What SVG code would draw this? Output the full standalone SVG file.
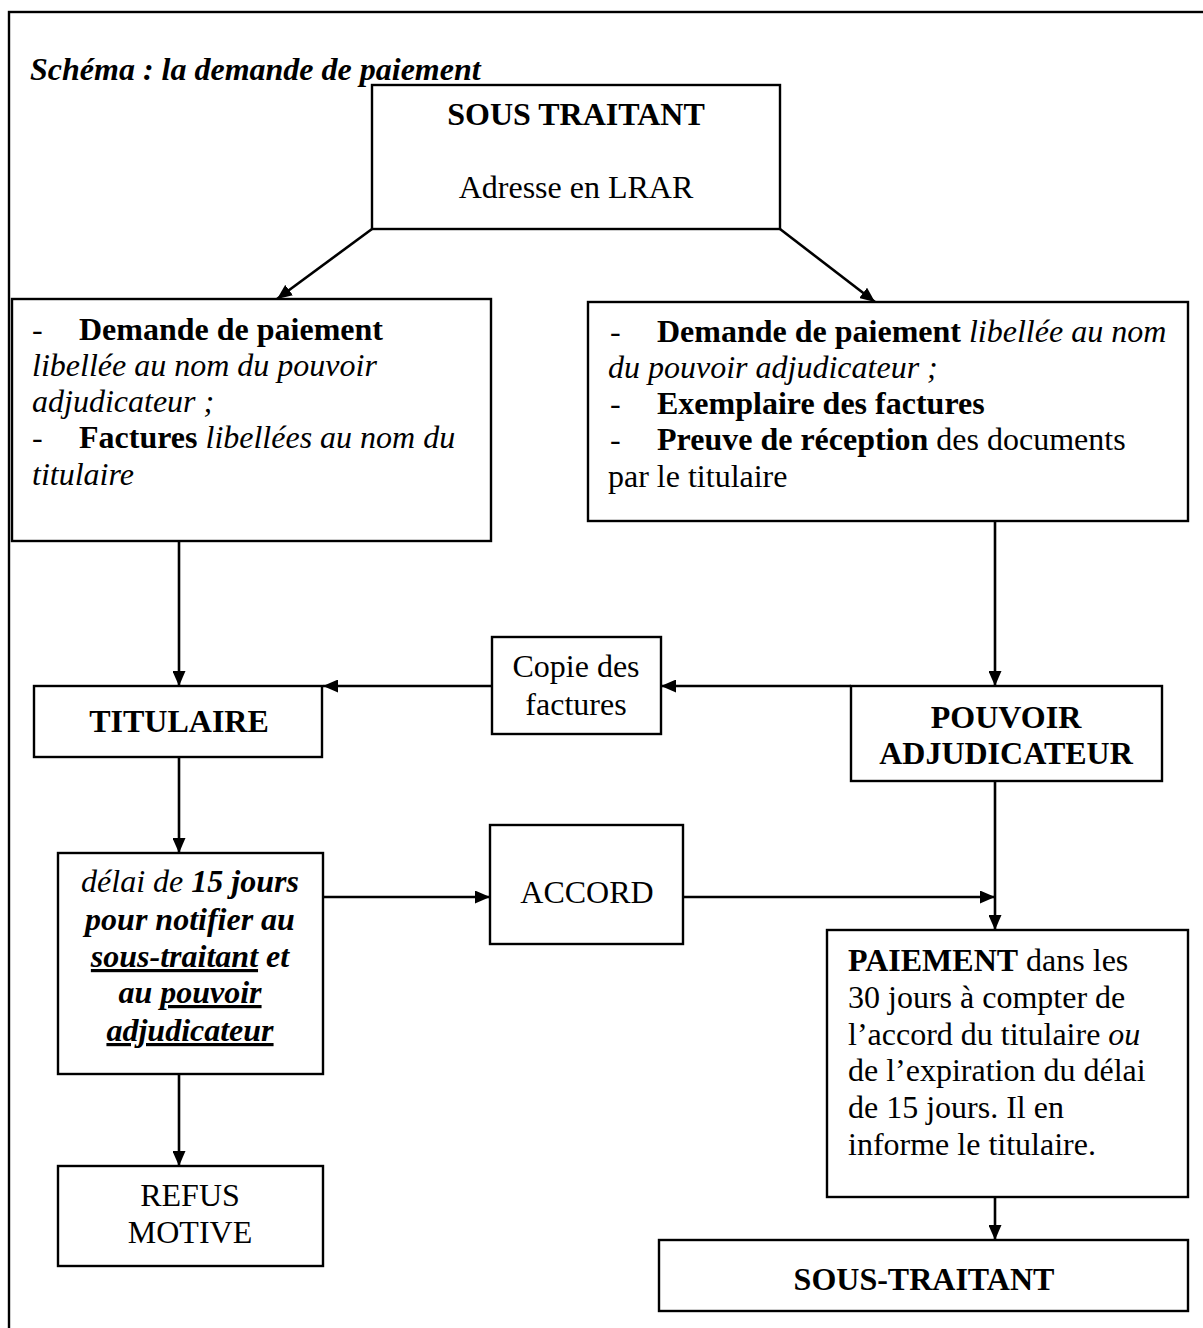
<svg xmlns="http://www.w3.org/2000/svg" width="1203" height="1328" viewBox="0 0 1203 1328">
<style>
text{font-family:"Liberation Serif","Times New Roman",serif;font-size:32px;fill:#000}
.b{font-weight:bold}
.i{font-style:italic}
.u{text-decoration:underline}
.m{text-anchor:middle}
.box{fill:#fff;stroke:#000;stroke-width:2.4}
.ln{fill:none;stroke:#000;stroke-width:2.6}
</style>
<defs>
<marker id="ah" viewBox="0 0 15 13" refX="15" refY="6.5" markerWidth="15" markerHeight="13" markerUnits="userSpaceOnUse" orient="auto">
<path d="M0,0 L15,6.5 L0,13 Z" fill="#000"/>
</marker>
</defs>
<rect x="9" y="12" width="1220" height="1340" fill="none" stroke="#000" stroke-width="2.4"/>
<text x="30" y="80" class="b i">Schéma : la demande de paiement</text>

<g id="connectors">
<line class="ln" x1="372" y1="229" x2="277" y2="299" marker-end="url(#ah)"/>
<line class="ln" x1="780" y1="229" x2="875" y2="302" marker-end="url(#ah)"/>
<line class="ln" x1="179" y1="541" x2="179" y2="686" marker-end="url(#ah)"/>
<line class="ln" x1="995" y1="521" x2="995" y2="686" marker-end="url(#ah)"/>
<line class="ln" x1="851" y1="686" x2="661" y2="686" marker-end="url(#ah)"/>
<line class="ln" x1="492" y1="686" x2="323" y2="686" marker-end="url(#ah)"/>
<line class="ln" x1="179" y1="757" x2="179" y2="853" marker-end="url(#ah)"/>
<line class="ln" x1="323" y1="897" x2="490" y2="897" marker-end="url(#ah)"/>
<line class="ln" x1="683" y1="897" x2="995" y2="897" marker-end="url(#ah)"/>
<line class="ln" x1="995" y1="781" x2="995" y2="930" marker-end="url(#ah)"/>
<line class="ln" x1="179" y1="1074" x2="179" y2="1166" marker-end="url(#ah)"/>
<line class="ln" x1="995" y1="1197" x2="995" y2="1240" marker-end="url(#ah)"/>
</g>

<g id="sous-traitant-top">
<rect class="box" x="372" y="85" width="408" height="144"/>
<text x="576" y="125" class="b m">SOUS TRAITANT</text>
<text x="576" y="198" class="m">Adresse en LRAR</text>
</g>

<g id="demande-gauche">
<rect class="box" x="12" y="299" width="479" height="242"/>
<text x="32" y="340">-</text>
<text x="79" y="340" class="b">Demande de paiement</text>
<text x="32" y="376" class="i">libellée au nom du pouvoir</text>
<text x="32" y="412" class="i">adjudicateur ;</text>
<text x="32" y="448">-</text>
<text x="79" y="448"><tspan class="b">Factures</tspan><tspan class="i"> libellées au nom du</tspan></text>
<text x="32" y="485" class="i">titulaire</text>
</g>

<g id="demande-droite">
<rect class="box" x="588" y="302" width="600" height="219"/>
<text x="610" y="342">-</text>
<text x="657" y="342"><tspan class="b">Demande de paiement</tspan><tspan class="i"> libellée au nom</tspan></text>
<text x="608" y="378" class="i">du pouvoir adjudicateur ;</text>
<text x="610" y="414">-</text>
<text x="657" y="414" class="b">Exemplaire des factures</text>
<text x="610" y="450">-</text>
<text x="657" y="450"><tspan class="b">Preuve de réception</tspan><tspan> des documents</tspan></text>
<text x="608" y="487">par le titulaire</text>
</g>

<g id="titulaire">
<rect class="box" x="34" y="686" width="288" height="71"/>
<text x="179" y="732" class="b m">TITULAIRE</text>
</g>

<g id="copie">
<rect class="box" x="492" y="637" width="169" height="97"/>
<text x="576" y="677" class="m">Copie des</text>
<text x="576" y="715" class="m">factures</text>
</g>

<g id="pouvoir">
<rect class="box" x="851" y="686" width="311" height="95"/>
<text x="1006" y="728" class="b m">POUVOIR</text>
<text x="1006" y="764" class="b m">ADJUDICATEUR</text>
</g>

<g id="delai">
<rect class="box" x="58" y="853" width="265" height="221"/>
<text x="190" y="892" class="m"><tspan class="i">délai de </tspan><tspan class="b i">15 jours</tspan></text>
<text x="190" y="930" class="b i m">pour notifier au</text>
<text x="190" y="967" class="b i m"><tspan class="u">sous-traitant</tspan> et</text>
<text x="190" y="1003" class="b i m">au <tspan class="u">pouvoir</tspan></text>
<text x="190" y="1041" class="b i m u">adjudicateur</text>
</g>

<g id="accord">
<rect class="box" x="490" y="825" width="193" height="119"/>
<text x="587" y="903" class="m">ACCORD</text>
</g>

<g id="paiement">
<rect class="box" x="827" y="930" width="361" height="267"/>
<text x="848" y="971"><tspan class="b">PAIEMENT</tspan> dans les</text>
<text x="848" y="1008">30 jours à compter de</text>
<text x="848" y="1045">l’accord du titulaire <tspan class="i">ou</tspan></text>
<text x="848" y="1081">de l’expiration du délai</text>
<text x="848" y="1118">de 15 jours. Il en</text>
<text x="848" y="1155">informe le titulaire.</text>
</g>

<g id="refus">
<rect class="box" x="58" y="1166" width="265" height="100"/>
<text x="190" y="1206" class="m">REFUS</text>
<text x="190" y="1243" class="m">MOTIVE</text>
</g>

<g id="sous-traitant-bas">
<rect class="box" x="659" y="1240" width="529" height="71"/>
<text x="924" y="1290" class="b m">SOUS-TRAITANT</text>
</g>
</svg>
